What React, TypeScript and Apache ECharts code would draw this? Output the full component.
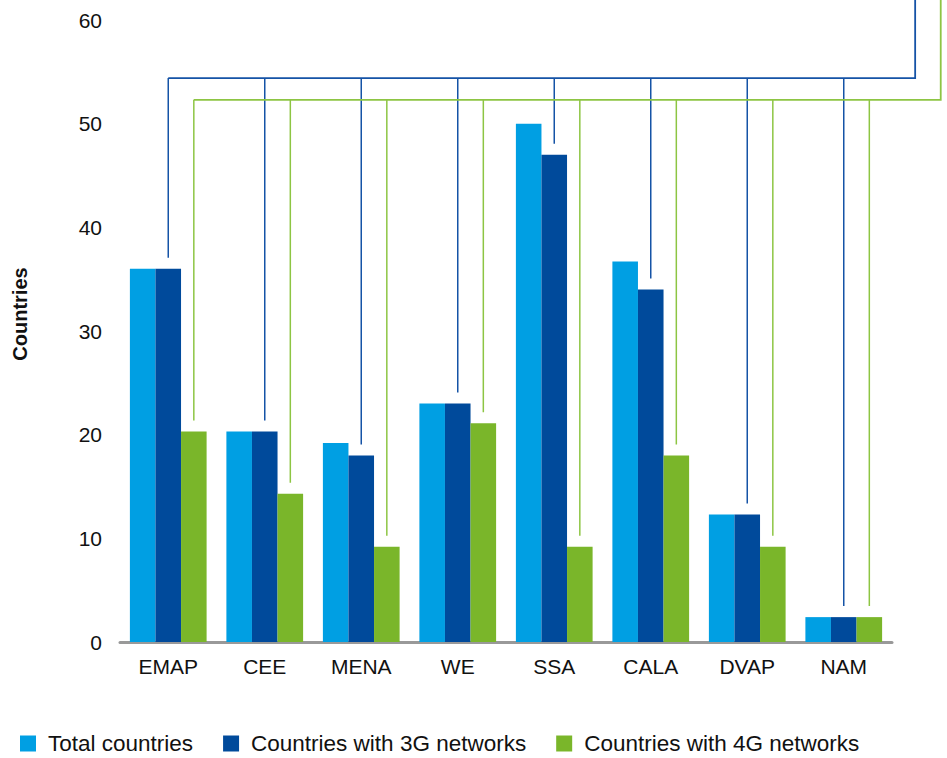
import React, { useEffect, useRef } from "react";
import * as echarts from "echarts";

const categories = ["EMAP", "CEE", "MENA", "WE", "SSA", "CALA", "DVAP", "NAM"];
const totalCountries = [36, 20.3, 19.2, 23, 50, 36.7, 12.3, 2.4];
const with3G = [36, 20.3, 18, 23, 47, 34, 12.3, 2.4];
const with4G = [20.3, 14.3, 9.2, 21.1, 9.2, 18, 9.2, 2.4];
const seriesNames = ["Total countries", "Countries with 3G networks", "Countries with 4G networks"];
const yMin = 0;
const yMax = 60;
const yInterval = 10;

const COLORS = ["#009fe3", "#004a9b", "#7ab62a"];
const LINE_BLUE = "#1553a6";
const LINE_GREEN = "#8dc543";
const FONT = "'Liberation Sans', Arial, sans-serif";
const BAR_FRAC = 0.265;

function connector(values: number[], offsetFrac: number, level: number, color: string) {
  return {
    type: "custom",
    silent: true,
    clip: false,
    z: 1,
    encode: { x: 0, y: 1 },
    data: values.map((v, i) => [i, v]),
    renderItem: (params: any, api: any) => {
      const i = api.value(0);
      const v = api.value(1);
      const band = api.size([1, 0])[0];
      const p = api.coord([i, v]);
      const x = p[0] + offsetFrac * band;
      const levelY = api.coord([i, level])[1];
      const children: any[] = [
        {
          type: "line",
          shape: { x1: x, y1: p[1] - 11, x2: x, y2: levelY },
          style: { stroke: color, lineWidth: 1.5 },
        },
      ];
      if (params.dataIndex === 0) {
        const last = api.coord([values.length - 1, 0]);
        const riserX = last[0] + offsetFrac * band + 0.74 * band;
        children.push({
          type: "polyline",
          shape: { points: [[x, levelY], [riserX, levelY], [riserX, 0]] },
          style: { stroke: color, lineWidth: 1.8, fill: null },
        });
      }
      return { type: "group", children };
    },
  };
}

export default function App() {
  const ref = useRef<HTMLDivElement>(null);
  useEffect(() => {
    document.body.style.margin = "0";
    const chart = echarts.init(ref.current!, null, { renderer: "svg" });
    const bar = (name: string, data: number[], color: string) => ({
      type: "bar",
      name,
      data,
      barWidth: BAR_FRAC * 100 + "%",
      barGap: "0%",
      itemStyle: { color },
      z: 2,
    });
    chart.setOption({
      animation: false,
      textStyle: { fontFamily: FONT },
      grid: { left: 120, right: 55, top: 20, bottom: 116, containLabel: false },
      legend: {
        data: seriesNames,
        left: 15,
        top: 727,
        icon: "rect",
        itemWidth: 16,
        itemHeight: 16,
        itemGap: 30,
        textStyle: { fontSize: 22.5, color: "#111", fontFamily: FONT, padding: [0, 0, 0, 7] },
      },
      xAxis: {
        type: "category",
        data: categories,
        axisLine: { lineStyle: { color: "#999", width: 3 } },
        axisTick: { show: false },
        axisLabel: { fontSize: 21, color: "#111", margin: 14, fontFamily: FONT },
      },
      yAxis: {
        type: "value",
        min: yMin,
        max: yMax,
        interval: yInterval,
        axisLine: { show: false },
        axisTick: { show: false },
        splitLine: { show: false },
        axisLabel: { fontSize: 21, color: "#111", margin: 18, fontFamily: FONT },
      },
      graphic: [
        {
          type: "text",
          x: 20,
          y: 314,
          rotation: Math.PI / 2,
          style: {
            text: "Countries",
            font: `bold 20px ${FONT}`,
            fill: "#111",
            align: "center",
            verticalAlign: "middle",
          },
        },
      ],
      series: [
        bar(seriesNames[0], totalCountries, COLORS[0]),
        bar(seriesNames[1], with3G, COLORS[1]),
        bar(seriesNames[2], with4G, COLORS[2]),
        connector(with3G, 0, 54.4, LINE_BLUE),
        connector(with4G, BAR_FRAC, 52.3, LINE_GREEN),
      ],
    });
    return () => chart.dispose();
  }, []);
  return <div ref={ref} style={{ width: 947, height: 758 }} />;
}
